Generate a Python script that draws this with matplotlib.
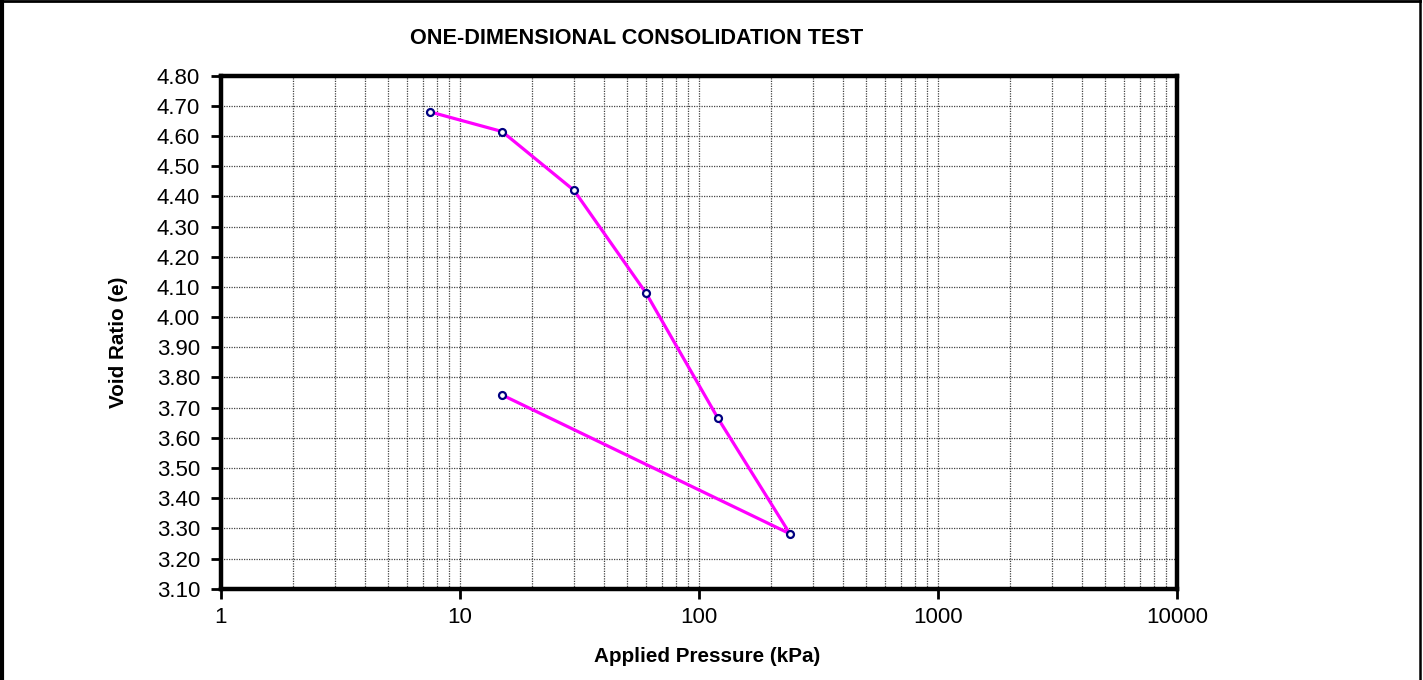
import numpy as np
import matplotlib.pyplot as plt
from matplotlib.lines import Line2D
from matplotlib.ticker import FixedLocator, FixedFormatter, LogLocator, NullFormatter

plt.rcParams['font.family'] = ['Liberation Sans', 'DejaVu Sans']

# Consolidation test readings: loading then unloading
pressure = [7.5, 15, 30, 60, 120, 240, 15]          # kPa
void_ratio = [4.68, 4.615, 4.42, 4.08, 3.665, 3.282, 3.742]

x_ticks = [1, 10, 100, 1000, 10000]
x_tick_labels = ['1', '10', '100', '1000', '10000']
y_ticks = np.round(np.arange(3.10, 4.801, 0.10), 2)

W, H = 1423, 680
fig = plt.figure(figsize=(W / 100, H / 100), dpi=100)
ax = fig.add_axes([221 / W, 1 - 588.7 / H, (1177 - 221) / W, (588.7 - 75.7) / H])

ax.set_xscale('log')
ax.set_xlim(1, 10000)
ax.set_ylim(3.10, 4.80)

ax.plot(pressure, void_ratio, color='#FF00FF', linewidth=2.3, zorder=3,
        marker='o', markersize=5, markerfacecolor='white',
        markeredgecolor='#000080', markeredgewidth=1.6)

# grid
ax.xaxis.set_major_locator(FixedLocator(x_ticks))
ax.xaxis.set_major_formatter(FixedFormatter(x_tick_labels))
ax.xaxis.set_minor_locator(LogLocator(base=10, subs=np.arange(2, 10)))
ax.xaxis.set_minor_formatter(NullFormatter())
ax.set_yticks(y_ticks)
ax.set_yticklabels([f'{v:.2f}' for v in y_ticks])
ax.grid(True, which='major', axis='both', color='#444444', linestyle=(0, (1, 1)), linewidth=0.9)
ax.grid(True, which='minor', axis='x', color='#444444', linestyle=(0, (1, 1)), linewidth=0.9)
ax.set_axisbelow(True)

for s in ax.spines.values():
    s.set_linewidth(3.2)
ax.tick_params(axis='both', which='major', labelsize=16, width=2, length=7, direction='out')
ax.tick_params(axis='x', which='minor', length=0)
ax.tick_params(axis='x', pad=6)
ax.tick_params(axis='y', pad=8)

fig.text(637 / W, 1 - 39 / H, 'ONE-DIMENSIONAL CONSOLIDATION TEST',
         ha='center', va='center', fontsize=15.6, fontweight='bold')
fig.text(707 / W, 1 - 656 / H, 'Applied Pressure (kPa)',
         ha='center', va='center', fontsize=14.9, fontweight='bold')
fig.text(118 / W, 1 - 342 / H, 'Void Ratio (e)', rotation=90,
         ha='center', va='center', fontsize=14.9, fontweight='bold')

# outer frame
fig.add_artist(Line2D([2 / W, 2 / W], [0, 1], color='black', linewidth=3, transform=fig.transFigure))
fig.add_artist(Line2D([0, 1420 / W], [1 - 1 / H, 1 - 1 / H], color='black', linewidth=2, transform=fig.transFigure))
fig.add_artist(Line2D([1420 / W, 1420 / W], [0, 1], color='black', linewidth=1.8, transform=fig.transFigure))

fig.savefig('out.png', dpi=100)
